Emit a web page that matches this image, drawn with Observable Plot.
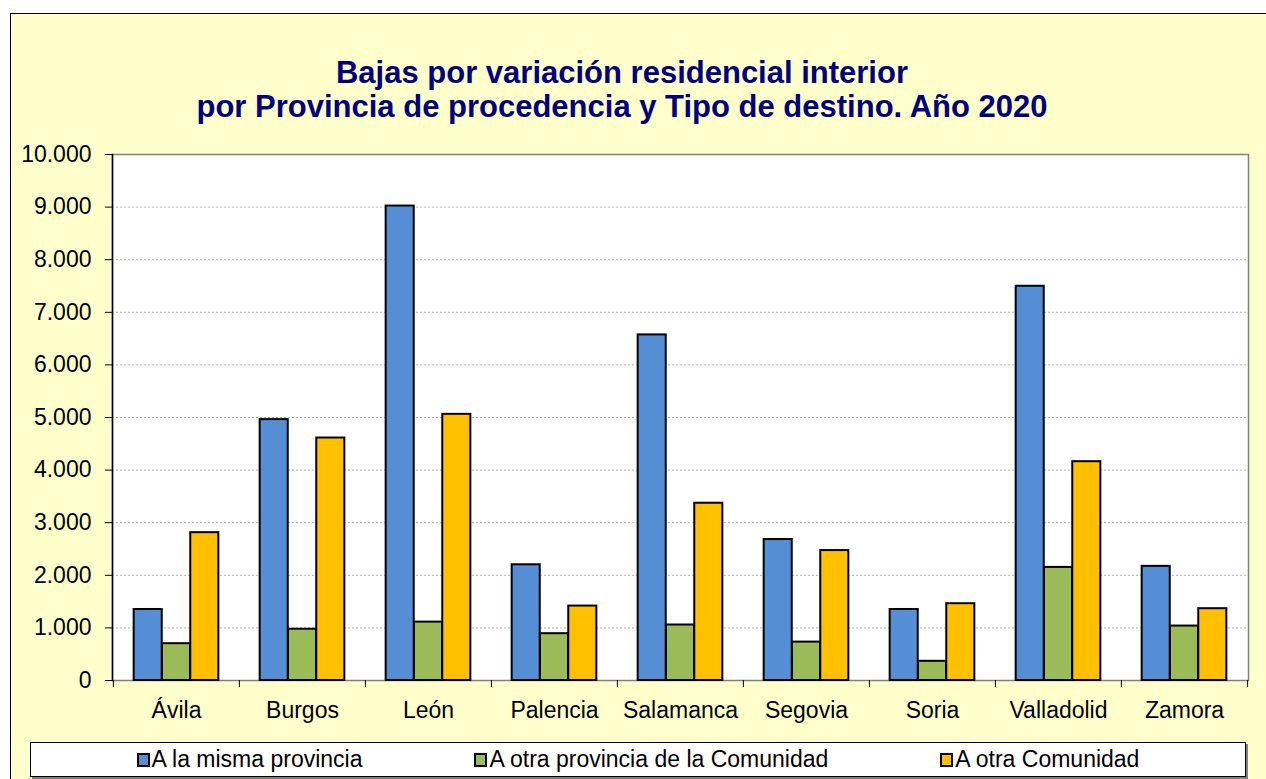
<!DOCTYPE html>
<html>
<head>
<meta charset="utf-8">
<script src="https://cdn.jsdelivr.net/npm/d3@7"></script>
<script src="https://cdn.jsdelivr.net/npm/@observablehq/plot@0.6"></script>
<style>
  html, body { margin: 0; padding: 0; background: #ffffff; overflow: hidden; }
  #wrap { position: relative; width: 1266px; height: 779px; overflow: hidden; font-family: "Liberation Sans", Arial, sans-serif; }
  #frame { position: absolute; left: 10px; top: 13px; width: 1300px; height: 800px; background: #FFFFCC; border: 1px solid #000; }
  #title { position: absolute; left: 0; width: 1244px; top: 56px; text-align: center; color: #000080; font-weight: bold; font-size: 31px; line-height: 34px; white-space: nowrap; }
  #chart { position: absolute; left: 0; top: 0; }
  #legend { position: absolute; left: 30px; top: 742px; width: 1214px; height: 33px; background: #fff; border: 1px solid #000; box-shadow: 2px 2px 0 #808080; display: flex; justify-content: center; align-items: center; gap: 112px; font-size: 23px; color: #000; }
  .item { display: flex; align-items: center; }
  .sw { width: 9px; height: 10px; border: 2px solid #000; margin-right: 2px; }
</style>
</head>
<body>
<div id="wrap">
  <div id="frame"></div>
  <div id="title">Bajas por variación residencial interior<br>por Provincia de procedencia y Tipo de destino. Año 2020</div>
  <div id="chart"></div>
  <div id="legend"></div>
</div>
<script>
const provincias = ["Ávila", "Burgos", "León", "Palencia", "Salamanca", "Segovia", "Soria", "Valladolid", "Zamora"];
const series = ["A la misma provincia", "A otra provincia de la Comunidad", "A otra Comunidad"];
const colores = ["#558ED5", "#9BBB59", "#FFC000"];
const mismaProvincia = [1350, 4960, 9020, 2200, 6570, 2680, 1350, 7495, 2170];
const otraProvincia = [700, 975, 1110, 890, 1055, 730, 365, 2150, 1035];
const otraComunidad = [2810, 4610, 5060, 1415, 3370, 2470, 1460, 4160, 1365];
const yTicks = [0, 1000, 2000, 3000, 4000, 5000, 6000, 7000, 8000, 9000, 10000];

const valores = [mismaProvincia, otraProvincia, otraComunidad];
const datos = series.map((s, j) => provincias.map((p, i) => ({provincia: p, serie: s, valor: valores[j][i]})));

const W = 1266, H = 779, mL = 112, mR = 18, mT = 154, mB = 99;
const bw = (W - mL - mR) / provincias.length;
const barW = 28.3;
const inset = (bw - barW) / 2;
const fmt = d => d3.format(",")(d).replace(/,/g, ".");

const barMarks = datos.map((d, j) => Plot.barY(d, {
  x: "provincia", y: "valor", fill: colores[j], stroke: "#000", strokeWidth: 2,
  insetLeft: inset, insetRight: inset, dx: (j - 1) * barW
}));

const chart = Plot.plot({
  width: W, height: H,
  marginLeft: mL, marginRight: mR, marginTop: mT, marginBottom: mB,
  style: {background: "transparent", overflow: "visible", fontFamily: "Liberation Sans, Arial, sans-serif", color: "#000"},
  x: {domain: provincias, padding: 0, label: null},
  y: {domain: [0, 10000], label: null},
  marks: [
    Plot.frame({fill: "white", stroke: "#808080", strokeWidth: 1.5}),
    Plot.gridY(yTicks.slice(1, -1), {stroke: "#b4b4b4", strokeOpacity: 1, strokeDasharray: "2,2"}),
    ...barMarks,
    Plot.frame({anchor: "left", stroke: "#000", strokeWidth: 1.5}),
    Plot.axisY(yTicks, {tickSize: 7, tickPadding: 14, tickFormat: fmt, fontSize: 23, label: null, stroke: "#000"}),
    Plot.axisX({tickSize: 0, tickPadding: 21, fontSize: 23, label: null}),
    Plot.axisX(provincias, {tickSize: 7, text: null, dx: -bw / 2, label: null, stroke: "#000"}),
    Plot.axisX(provincias.slice(-1), {tickSize: 7, text: null, dx: bw / 2, label: null, stroke: "#000"})
  ]
});
document.getElementById("chart").appendChild(chart);

const legend = document.getElementById("legend");
series.forEach((s, j) => {
  const it = document.createElement("div");
  it.className = "item";
  const sw = document.createElement("div");
  sw.className = "sw";
  sw.style.background = colores[j];
  const t = document.createElement("span");
  t.textContent = s;
  it.appendChild(sw); it.appendChild(t);
  legend.appendChild(it);
});
</script>
</body>
</html>
